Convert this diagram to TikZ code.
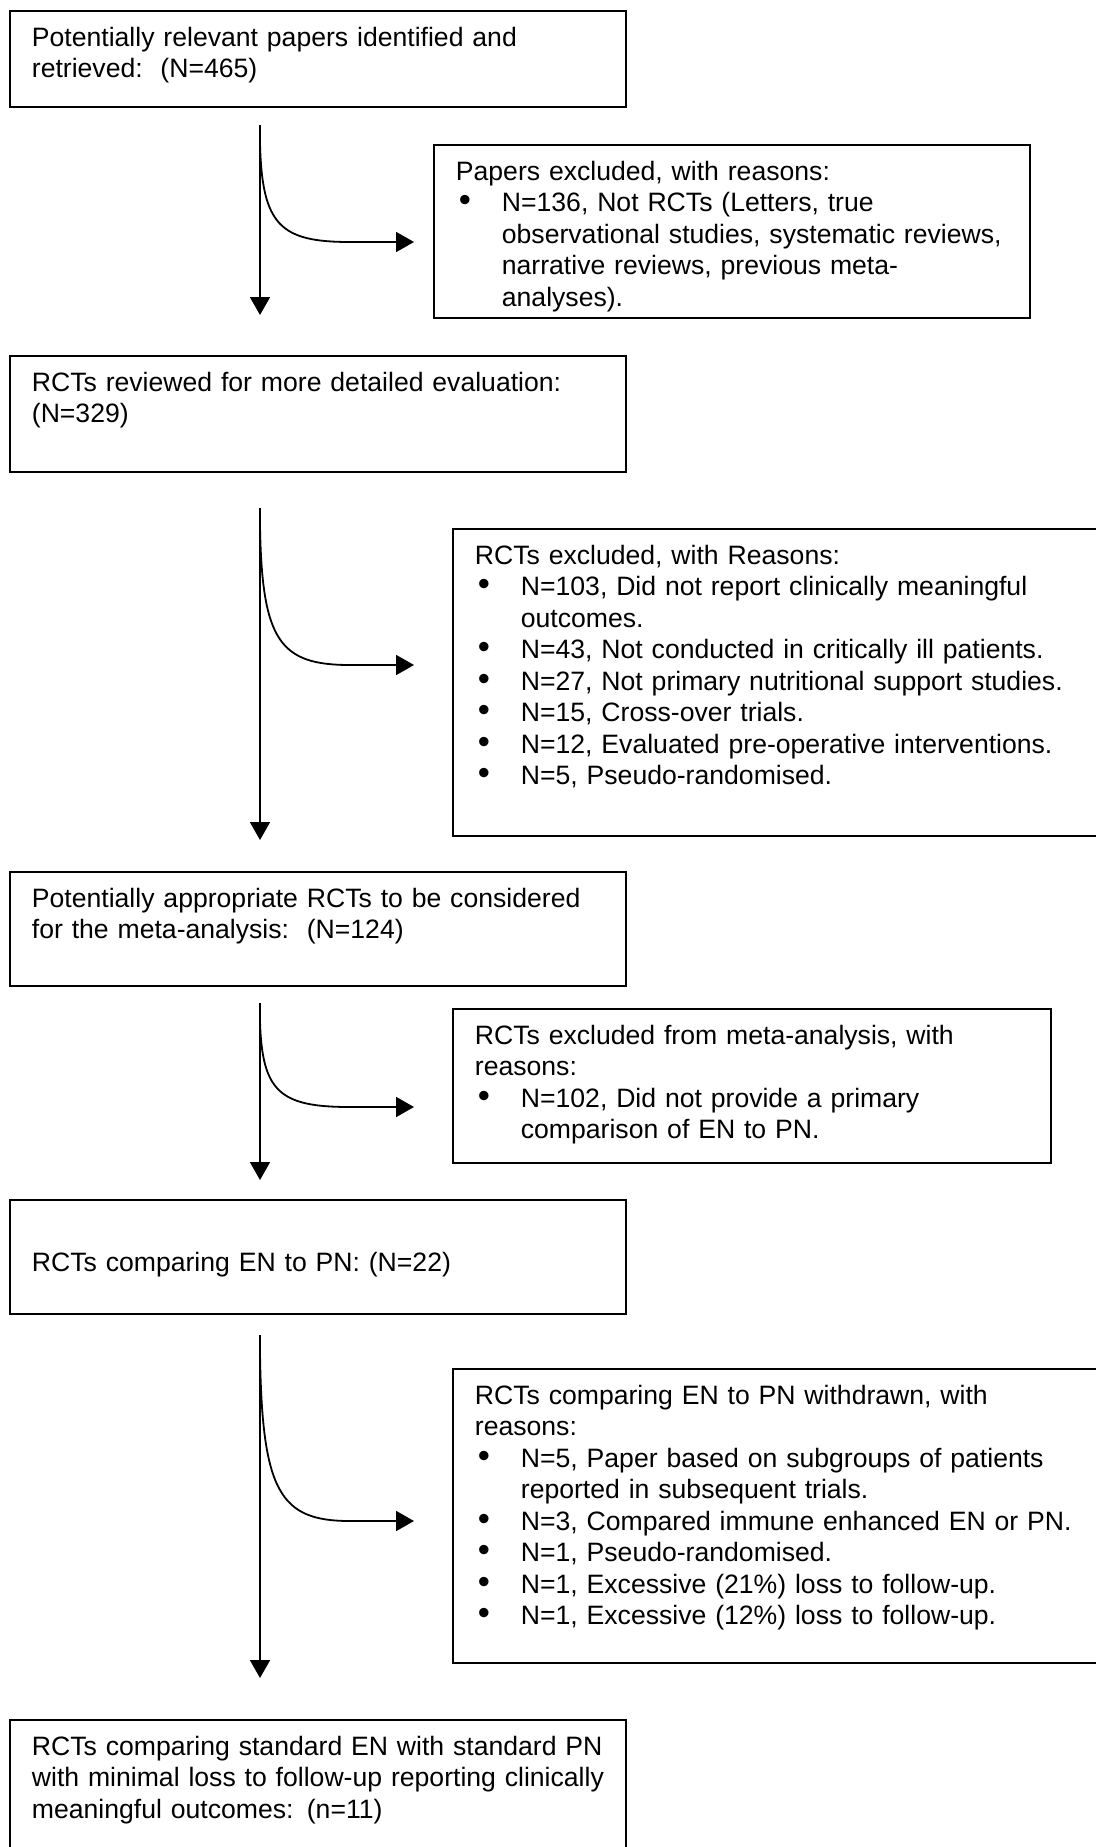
\documentclass[tikz,border=0pt]{standalone}
\usepackage{fontspec}
\setmainfont{Liberation Sans}
\usepackage{tikz}
\usetikzlibrary{arrows.meta, positioning}

\newcommand{\bul}{\makebox[46pt][l]{\hspace{3pt}\scalebox{1.3}{\textbullet}}}
\newcommand{\ind}{\hspace*{46pt}}

\tikzset{
    flowbox/.style={draw, rectangle, line width=1.8pt, inner sep=0pt, anchor=north west},
    txt/.style={inner sep=0pt, text width=640pt, align=left, anchor=base west,
        font=\fontsize{26.6pt}{31.5pt}\selectfont}
}

\begin{document}
\begin{tikzpicture}[x=1pt, y=-1pt, >={Triangle[length=18pt, width=20pt]}, line width=1.8pt]
        \path[use as bounding box, fill=white] (0,0) rectangle (1095,1847);

        % main stages
        \node[flowbox, minimum width=616pt, minimum height=96pt] (n1) at (9,10) {};
        \node[flowbox, minimum width=616pt, minimum height=116pt] (n2) at (9,355) {};
        \node[flowbox, minimum width=616pt, minimum height=114pt] (n3) at (9,871) {};
        \node[flowbox, minimum width=616pt, minimum height=114pt] (n4) at (9,1199) {};
        \node[flowbox, minimum width=616pt, minimum height=160pt] (n5) at (9,1719) {};

        % exclusions
        \node[flowbox, minimum width=596pt, minimum height=173pt] (x1) at (433,144) {};
        \node[flowbox, minimum width=660pt, minimum height=307pt] (x2) at (452,528) {};
        \node[flowbox, minimum width=598pt, minimum height=154pt] (x3) at (452,1008) {};
        \node[flowbox, minimum width=660pt, minimum height=294pt] (x4) at (452,1368) {};

        \node[txt] (t1) at ([shift={(22,36)}]n1.north west)
            {Potentially relevant papers identified and\\retrieved:\ \ (N=465)};
        \node[txt] (t2) at ([shift={(22,36)}]n2.north west)
            {RCTs reviewed for more detailed evaluation:\\(N=329)};
        \node[txt] (t3) at ([shift={(22,36)}]n3.north west)
            {Potentially appropriate RCTs to be considered\\for the meta-analysis:\ \ (N=124)};
        \node[txt] (t4) at ([shift={(22,72)}]n4.north west)
            {RCTs comparing EN to PN: (N=22)};
        \node[txt] (t5) at ([shift={(22,36)}]n5.north west)
            {RCTs comparing standard EN with standard PN\\with minimal loss to follow-up reporting clinically\\meaningful outcomes: (n=11)};

        \node[txt] (tx1) at ([shift={(22,36)}]x1.north west)
            {Papers excluded, with reasons:\\
             \bul N=136, Not RCTs (Letters, true\\
             \ind observational studies, systematic reviews,\\
             \ind narrative reviews, previous meta-\\
             \ind analyses).};
        \node[txt] (tx2) at ([shift={(22,36)}]x2.north west)
            {RCTs excluded, with Reasons:\\
             \bul N=103, Did not report clinically meaningful\\
             \ind outcomes.\\
             \bul N=43, Not conducted in critically ill patients.\\
             \bul N=27, Not primary nutritional support studies.\\
             \bul N=15, Cross-over trials.\\
             \bul N=12, Evaluated pre-operative interventions.\\
             \bul N=5, Pseudo-randomised.};
        \node[txt] (tx3) at ([shift={(22,36)}]x3.north west)
            {RCTs excluded from meta-analysis, with\\reasons:\\
             \bul N=102, Did not provide a primary\\
             \ind comparison of EN to PN.};
        \node[txt] (tx4) at ([shift={(22,36)}]x4.north west)
            {RCTs comparing EN to PN withdrawn, with\\reasons:\\
             \bul N=5, Paper based on subgroups of patients\\
             \ind reported in subsequent trials.\\
             \bul N=3, Compared immune enhanced EN or PN.\\
             \bul N=1, Pseudo-randomised.\\
             \bul N=1, Excessive (21\%) loss to follow-up.\\
             \bul N=1, Excessive (12\%) loss to follow-up.};

        % arrows
        \coordinate (s1) at (260,125);  \coordinate (e1) at (260,315);
        \coordinate (c1) at (260,143);  \coordinate (h1) at (414,242);
        \coordinate (s2) at (260,508);  \coordinate (e2) at (260,840);
        \coordinate (c2) at (260,526);  \coordinate (h2) at (414,665);
        \coordinate (s3) at (260,1003); \coordinate (e3) at (260,1180);
        \coordinate (c3) at (260,1021); \coordinate (h3) at (414,1107);
        \coordinate (s4) at (260,1335); \coordinate (e4) at (260,1678);
        \coordinate (c4) at (260,1353); \coordinate (h4) at (414,1521);

        \foreach \i in {1,...,4}
            \draw[->] (s\i) -- (e\i);

        \draw[->] (c1) .. controls (262,225) and (280,242) .. (350,242) -- (h1);
        \draw[->] (c2) .. controls (262,641) and (280,665) .. (350,665) -- (h2);
        \draw[->] (c3) .. controls (262,1092) and (280,1107) .. (350,1107) -- (h3);
        \draw[->] (c4) .. controls (262,1492) and (280,1521) .. (350,1521) -- (h4);
\end{tikzpicture}
\end{document}
